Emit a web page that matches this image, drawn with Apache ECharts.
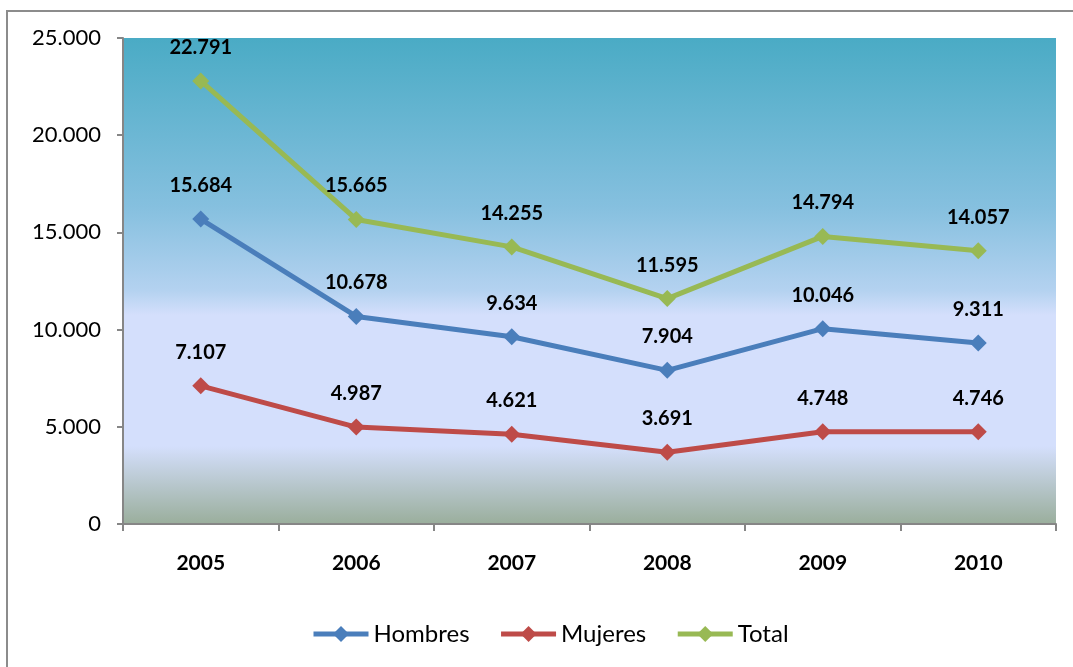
<!DOCTYPE html>
<html>
<head>
<meta charset="utf-8">
<script src="https://cdn.jsdelivr.net/npm/echarts@6/dist/echarts.min.js"></script>
<style>
html,body{margin:0;padding:0;background:#fff;}
#frame{position:absolute;left:6px;top:10px;width:1080px;height:680px;border:2px solid #8c8c8c;box-sizing:border-box;}
#chart{position:absolute;left:0;top:0;width:1073px;height:667px;}
</style>
</head>
<body>
<div id="frame"></div>
<div id="chart"></div>
<script>
const years = ['2005','2006','2007','2008','2009','2010'];
const hombres = [15684, 10678, 9634, 7904, 10046, 9311];
const mujeres = [7107, 4987, 4621, 3691, 4748, 4746];
const total = [22791, 15665, 14255, 11595, 14794, 14057];
const seriesNames = ['Hombres','Mujeres','Total'];
const yTicks = [0, 5000, 10000, 15000, 20000, 25000];

function fmt(v){
  return String(v).replace(/\B(?=(\d{3})+(?!\d))/g, '.');
}
const FONT = 'Lato';
const chart = echarts.init(document.getElementById('chart'), null, {renderer:'canvas'});
function mk(name, data, color){
  return {
    name: name, type:'line', data: data,
    symbol:'diamond', symbolSize: 17,
    lineStyle:{color: color, width: 5},
    itemStyle:{color: color},
    label:{show:true, position:'top', distance: 15, formatter: p => fmt(p.value),
      fontFamily: FONT, fontWeight:'bold', fontSize: 20, color:'#000'},
    emphasis:{disabled:true},
    animation:false
  };
}
chart.setOption({
  animation:false,
  grid:{left:123, top:38, width:933, height:486, show:true, borderWidth:0,
    backgroundColor:{type:'linear', x:0, y:0, x2:0, y2:1, colorStops:[
      {offset:0, color:'#4aabc5'},
      {offset:0.35, color:'#86c0df'},
      {offset:0.52, color:'#b4d2f0'},
      {offset:0.57, color:'#d4dffc'},
      {offset:0.84, color:'#d4dffc'},
      {offset:1, color:'#9aae9c'}
    ]}},
  legend:{bottom: 16, left: 306, itemWidth: 55, itemHeight: 20, itemGap: 29,
    data: seriesNames,
    lineStyle:{width: 5},
    textStyle:{fontFamily: FONT, fontSize: 24, color:'#000'}},
  xAxis:{type:'category', data: years, boundaryGap:true,
    axisLine:{lineStyle:{color:'#868686', width:2}},
    axisTick:{show:true, length:7, lineStyle:{color:'#868686', width:2}},
    axisLabel:{fontFamily: FONT, fontWeight:'bold', fontSize: 21, color:'#000', margin: 29}},
  yAxis:{type:'value', min:0, max:25000, interval:5000,
    axisLine:{show:true, lineStyle:{color:'#868686', width:2}},
    axisTick:{show:true, length:6, lineStyle:{color:'#868686', width:2}},
    splitLine:{show:false},
    axisLabel:{fontFamily: FONT, fontSize: 22, color:'#000', margin: 22,
      formatter: v => yTicks.indexOf(v) >= 0 ? fmt(v) : ''}},
  series:[
    mk(seriesNames[0], hombres, '#4a7ebb'),
    mk(seriesNames[1], mujeres, '#be4b48'),
    mk(seriesNames[2], total, '#98b954')
  ]
});
</script>
</body>
</html>
